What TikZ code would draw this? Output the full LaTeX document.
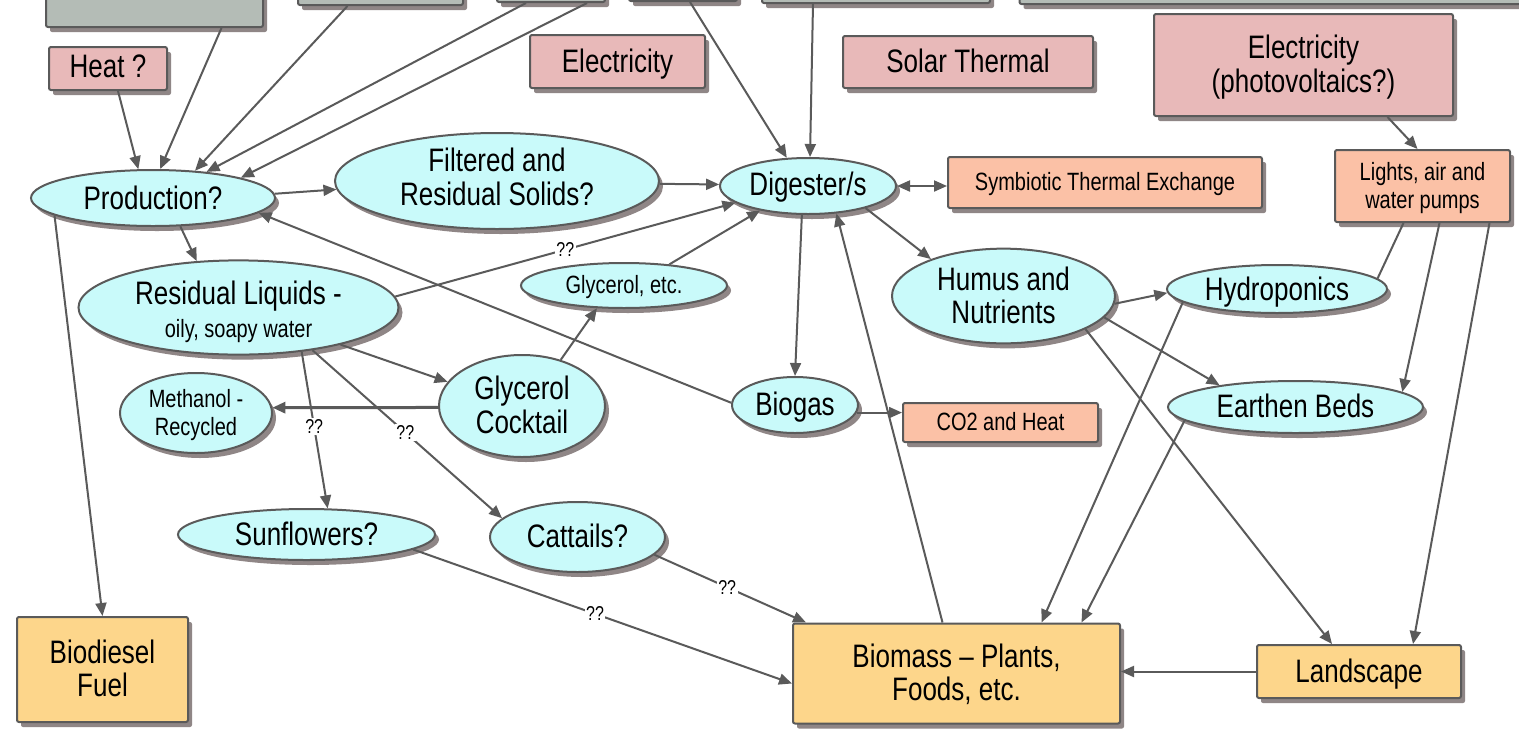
\documentclass[tikz,border=0pt]{standalone}
\usepackage{fontspec}
\setmainfont{Liberation Sans}
\usepackage{graphicx}
\usetikzlibrary{shapes.geometric,arrows.meta,shadows,calc}

\definecolor{cyanfill}{HTML}{C9FAFA}
\definecolor{pinkfill}{HTML}{E8B9B9}
\definecolor{salmonfill}{HTML}{FBC1A6}
\definecolor{goldfill}{HTML}{FDD68B}
\definecolor{greyfill}{HTML}{B4BCB6}
\definecolor{edgec}{HTML}{5A5A5A}
\definecolor{shadowc}{HTML}{8F8686}
\definecolor{linec}{HTML}{5A5A5A}

% tall, centred multi-line label; the optional argument lowers it inside its node
\newcommand\tl[2][3pt]{\scalebox{1}[1.25]{\raisebox{0pt}[\dimexpr\height+#1\relax][\dimexpr\depth-#1\relax]{\begin{tabular}{@{}c@{}}#2\end{tabular}}}}
% tall label without offset
\newcommand\tq[1]{\scalebox{1}[1.25]{#1}}
\newcommand\smallfont{\fontsize{20}{22.5}\selectfont}

\tikzset{
  dshadow/.style={drop shadow={shadow xshift=4pt, shadow yshift=-5pt, fill=shadowc, opacity=1}},
  ellnode/.style={ellipse, draw=edgec, line width=2pt, fill=cyanfill, dshadow,
    inner sep=0pt, font=\fontsize{26}{26.5}\selectfont},
  rbox/.style={rectangle, rounded corners=2pt, draw=edgec, line width=2pt, dshadow,
    inner sep=0pt, font=\fontsize{26}{26.5}\selectfont},
  ln/.style={draw=linec, line width=2pt},
  arr/.style={ln, -{Triangle[length=13pt,width=11pt]}},
  dblarr/.style={ln, {Triangle[length=13pt,width=11pt]}-{Triangle[length=13pt,width=11pt]}},
  qq/.style={fill=white, inner sep=1.5pt, font=\fontsize{16}{16}\selectfont},
}

\begin{document}
\begin{tikzpicture}[x=1pt, y=-1pt]
\fill[white] (0,0) rectangle (1519,729);
\useasboundingbox (0,0) rectangle (1519,729);

% sources along the top edge
\node[rbox, fill=greyfill, minimum width=217pt, minimum height=90pt] (oil) at (154.5,-18) {};
\node[rbox, fill=greyfill, minimum width=165pt, minimum height=70pt] (top2) at (380.5,-30) {};
\node[rbox, fill=greyfill, minimum width=108pt, minimum height=70pt] (top3) at (551,-33) {};
\node[rbox, fill=greyfill, minimum width=108pt, minimum height=70pt] (top4) at (683,-34) {};
\node[rbox, fill=greyfill, minimum width=228pt, minimum height=70pt] (top5) at (876,-32) {};
\node[rbox, fill=greyfill, minimum width=505pt, minimum height=70pt] (top6) at (1272,-31) {};

% energy inputs
\node[rbox, fill=pinkfill, minimum width=118pt, minimum height=43pt] (heat) at (108,68.5) {\tl[2pt]{Heat ?}};
\node[rbox, fill=pinkfill, minimum width=175pt, minimum height=53pt] (elec) at (617.5,61.5) {\tl{Electricity}};
\node[rbox, fill=pinkfill, minimum width=250pt, minimum height=52pt] (solar) at (968,62) {\tl{Solar Thermal}};
\node[rbox, fill=pinkfill, minimum width=299pt, minimum height=102pt] (pv) at (1303.5,65) {\tl{Electricity\\(photovoltaics?)}};

% salmon boxes
\node[rbox, fill=salmonfill, minimum width=314pt, minimum height=51pt, font=\smallfont] (sym) at (1105,182.5) {\tl[2pt]{Symbiotic Thermal Exchange}};
\node[rbox, fill=salmonfill, minimum width=175pt, minimum height=72pt, font=\smallfont] (lights) at (1422.5,186) {\tl[2pt]{Lights, air and\\water pumps}};
\node[rbox, fill=salmonfill, minimum width=195pt, minimum height=39pt, font=\smallfont] (co2) at (1000.5,422.5) {\tl[2pt]{CO2 and Heat}};

% outputs
\node[rbox, fill=goldfill, minimum width=171pt, minimum height=105pt] (biod) at (102.5,669.5) {\tl{Biodiesel\\Fuel}};
\node[rbox, fill=goldfill, minimum width=327pt, minimum height=100pt] (biom) at (956.5,673.5) {\tl{Biomass -- Plants,\\Foods, etc.}};
\node[rbox, fill=goldfill, minimum width=204pt, minimum height=53pt] (land) at (1359,671.5) {\tl{Landscape}};

% process ellipses
\node[ellnode, minimum width=244pt, minimum height=56pt] (prod) at (153,198) {\tl[3.5pt]{Production?}};
\node[ellnode, minimum width=324pt, minimum height=96pt] (filt) at (497,181) {\tl[0.5pt]{Filtered and\\Residual Solids?}};
\node[ellnode, minimum width=176pt, minimum height=56pt] (dig) at (808,186) {\tl[2pt]{Digester/s}};
\node[ellnode, minimum width=320pt, minimum height=86pt] (resid) at (238.5,307.5) {\tl[5pt]{Residual Liquids -\\\smallfont oily, soapy water}};
\node[ellnode, minimum width=206pt, minimum height=45pt, font=\smallfont] (glyetc) at (624,285.5) {\tl[2pt]{Glycerol, etc.}};
\node[ellnode, minimum width=223pt, minimum height=88pt] (humus) at (1003.5,296) {\tl[3.5pt]{Humus and\\Nutrients}};
\node[ellnode, minimum width=220pt, minimum height=48pt] (hydro) at (1277,289) {\tl[4pt]{Hydroponics}};
\node[ellnode, minimum width=255pt, minimum height=52pt] (earth) at (1295.5,407) {\tl{Earthen Beds}};
\node[ellnode, minimum width=152pt, minimum height=80pt, font=\smallfont] (meth) at (196,413) {\tl[2pt]{Methanol -\\Recycled}};
\node[ellnode, minimum width=166pt, minimum height=102pt] (cock) at (522,406) {\tl{Glycerol\\Cocktail}};
\node[ellnode, minimum width=126pt, minimum height=56pt] (biogas) at (795,405) {\tl{Biogas}};
\node[ellnode, minimum width=257pt, minimum height=51pt] (sun) at (306.5,534.5) {\tl{Sunflowers?}};
\node[ellnode, minimum width=175pt, minimum height=70pt] (cat) at (577.5,537) {\tl{Cattails?}};

% flows into production
\draw[arr] ([xshift=10pt]heat.south) -- (prod.117);
\draw[arr] ([xshift=67pt]oil.south) -- (prod.76);
\draw[arr] ([xshift=-33pt]top2.south) -- (prod.33);
\draw[arr] ([xshift=-25pt]top3.south) -- (prod.26);
\draw[arr] ([xshift=36pt]top3.south) -- (prod.13);
\draw[arr] (biogas.178) -- (prod.352);

% flows into the digester
\draw[arr] ([xshift=7pt]top4.south) -- (dig.127);
\draw[arr] ([xshift=-63pt]top5.south) -- (dig.86);
\draw[arr] (prod.2) -- (filt.183);
\draw[arr] (filt.359) -- (dig.179);
\draw[dblarr] (dig.0) -- (dig.0 -| sym.west);
\draw[arr] (resid.4) -- node[qq, pos=0.5] {\tq{??}} (dig.193);
\draw[arr] (glyetc.25) -- (dig.207);
\draw[arr] ([xshift=-14pt]biom.north) -- (dig.316);

% liquids branch
\draw[arr] (prod.314) -- (resid.132);
\draw[arr] (prod.190) -- (biod.north);
\draw[arr] (cock.50) -- (glyetc.220);
\draw[arr] (resid.340) -- (cock.162);
\draw[ln, line width=3pt, -{Triangle[length=13pt,width=11pt]}] (cock.181) -- (meth.4);
\draw[arr] (resid.325) -- node[qq, pos=0.48] {\tq{??}} (sun.51);
\draw[arr] (resid.330) -- node[qq, pos=0.49] {\tq{??}} (cat.166);

% digester outputs
\draw[arr] (dig.258) -- (biogas.north);
\draw[arr] (dig.339) -- (humus.153);
\draw[arr] (biogas.353) -- (biogas.353 -| co2.west);
\draw[arr] (humus.356) -- (hydro.182);
\draw[arr] (humus.348) -- (earth.164);
\draw[arr] (humus.338) -- ([xshift=-27pt]land.north);

% growing beds
\draw[arr] ([xshift=84pt]pv.south) -- ([xshift=-5pt]lights.north);
\draw[arr] (hydro.188) -- ([xshift=85pt]biom.north);
\draw[arr] (earth.187) -- ([xshift=125pt]biom.north);
\draw[ln] ([xshift=-19pt]lights.south) -- (hydro.6);
\draw[arr] ([xshift=17pt]lights.south) -- (earth.8);
\draw[arr] ([xshift=67pt]lights.south) -- ([xshift=54pt]land.north);
\draw[arr] (land.west) -- (land.west -| biom.east);
\draw[arr] (sun.352) -- node[qq, pos=0.48] {\tq{??}} ([yshift=-10pt]biom.west);
\draw[arr] (cat.347) -- node[qq, pos=0.48] {\tq{??}} ([xshift=14pt]biom.north west);
\end{tikzpicture}
\end{document}
